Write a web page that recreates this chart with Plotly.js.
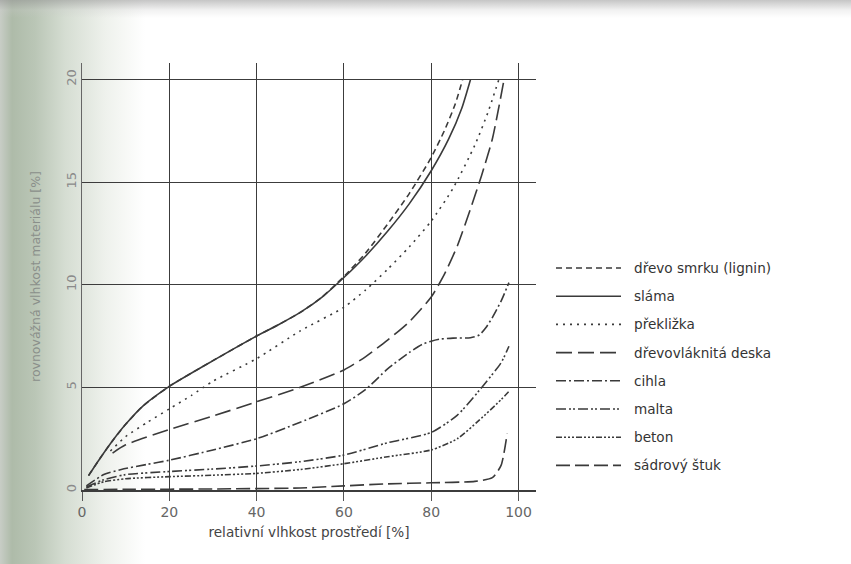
<!DOCTYPE html>
<html>
<head>
<meta charset="utf-8">
<script src="https://cdn.plot.ly/plotly-3.0.1.min.js"></script>
<style>
  html, body { margin: 0; padding: 0; }
  body {
    width: 851px; height: 564px; overflow: hidden;
    background:
      linear-gradient(to bottom, rgba(150,150,150,0.55) 0px, rgba(200,200,200,0.25) 10px, rgba(255,255,255,0) 18px),
      linear-gradient(to right, #c8cdc6 0px, #aebba9 12px, #bac6b6 35px, #d5ddd2 65px, #eef1ec 105px, #ffffff 145px);
  }
  #chart { width: 851px; height: 564px; }
</style>
</head>
<body>
<div id="chart"></div>
<script>
// ---- data ----
const seriesNames = ["dřevo smrku (lignin)", "sláma", "překližka", "dřevovláknitá deska", "cihla", "malta", "beton", "sádrový štuk"];

const xDrevo = [1.5, 4, 7, 10, 14, 20, 30, 40, 45, 50, 55, 60, 65, 70, 75, 80, 83, 85.5, 87.2];
const yDrevo = [0.7, 1.5, 2.4, 3.2, 4.1, 5.05, 6.3, 7.5, 8.05, 8.65, 9.4, 10.4, 11.55, 12.95, 14.45, 16.2, 17.5, 18.8, 20.0];

const xSlama = [1.5, 4, 7, 10, 14, 20, 30, 40, 45, 50, 55, 60, 65, 70, 75, 80, 84, 87, 89];
const ySlama = [0.7, 1.5, 2.4, 3.2, 4.1, 5.05, 6.3, 7.5, 8.05, 8.65, 9.4, 10.35, 11.4, 12.6, 13.95, 15.55, 17.1, 18.6, 20.0];

const xPreklizka = [6.5, 10, 15, 20, 25, 30, 40, 50, 60, 65, 70, 75, 80, 85, 90, 93, 95.5];
const yPreklizka = [1.9, 2.6, 3.3, 3.95, 4.6, 5.3, 6.4, 7.75, 8.9, 9.75, 10.75, 11.85, 13.1, 14.7, 16.8, 18.4, 20.0];

const xDeska = [7, 10, 20, 30, 40, 50, 60, 65, 70, 75, 80, 83, 86, 89, 91.5, 94, 96.6];
const yDeska = [1.8, 2.2, 2.95, 3.6, 4.3, 5.0, 5.85, 6.5, 7.3, 8.2, 9.4, 10.5, 11.9, 13.7, 15.3, 17.1, 19.9];

const xCihla = [1, 5, 9, 15, 20, 30, 40, 50, 60, 65, 70, 75, 78, 80, 82, 85, 89, 91, 92.5, 94, 96, 97.8];
const yCihla = [0.2, 0.75, 1.0, 1.25, 1.45, 1.95, 2.5, 3.3, 4.2, 4.9, 5.9, 6.7, 7.1, 7.25, 7.35, 7.4, 7.42, 7.55, 7.9, 8.4, 9.2, 10.1];

const xMalta = [1, 5, 10, 20, 30, 40, 50, 60, 70, 80, 86, 91, 96, 97.8];
const yMalta = [0.15, 0.5, 0.75, 0.9, 1.02, 1.17, 1.38, 1.7, 2.3, 2.8, 3.65, 4.85, 6.2, 7.0];

const xBeton = [1, 5, 10, 20, 30, 40, 50, 60, 70, 80, 86, 91, 96, 97.8];
const yBeton = [0.1, 0.4, 0.55, 0.65, 0.72, 0.81, 1.0, 1.28, 1.62, 1.95, 2.5, 3.4, 4.4, 4.8];

const xStuk = [0.5, 10, 30, 50, 60, 70, 80, 90, 94, 96, 97.4];
const yStuk = [0.02, 0.03, 0.05, 0.1, 0.2, 0.3, 0.35, 0.42, 0.6, 1.2, 2.75];

const xTicks = [0, 20, 40, 60, 80, 100];
const yTicks = [0, 5, 10, 15, 20];

// ---- styles ----
const dashes = ["6px,4px", "solid", "2px,5px", "16px,6px", "10px,3px,2px,3px", "10px,3px,2px,2px,2px,3px", "6px,2px,2px,2px,2px,2px,2px,2px", "14px,5px"];
const xs = [xDrevo, xSlama, xPreklizka, xDeska, xCihla, xMalta, xBeton, xStuk];
const ys = [yDrevo, ySlama, yPreklizka, yDeska, yCihla, yMalta, yBeton, yStuk];
const lineColor = "#3a3a3a";

const traces = seriesNames.map((n, i) => ({
  type: "scatter", mode: "lines", name: n,
  x: xs[i], y: ys[i],
  line: { color: lineColor, width: 1.6, dash: dashes[i], shape: "spline", smoothing: 0.6 },
  showlegend: false, hoverinfo: "skip"
}));

// plot area in pixels
const L = 82, R = 536, T = 63, B = 490;
const W = 851, H = 564;
const px2x = p => (p - L) / (R - L);
const py2y = p => (B - p) / (B - T);

// manual legend (long line samples like the reference)
const legTop = 268, legStep = 28.2, sampX0 = 556, sampX1 = 621, textX = 632;
const shapes = [], annotations = [];
seriesNames.forEach((n, i) => {
  const yy = py2y(legTop + i * legStep);
  shapes.push({ type: "line", xref: "paper", yref: "paper",
    x0: px2x(sampX0), x1: px2x(sampX1), y0: yy, y1: yy,
    line: { color: lineColor, width: 1.6, dash: dashes[i] } });
  annotations.push({ xref: "paper", yref: "paper", x: px2x(textX), y: yy,
    xanchor: "left", yanchor: "middle", showarrow: false, text: n,
    font: { family: "DejaVu Sans", size: 13.6, color: "#333" } });
});

const layout = {
  width: W, height: H,
  margin: { l: L, r: W - R, t: T, b: H - B },
  paper_bgcolor: "rgba(0,0,0,0)",
  plot_bgcolor: "rgba(0,0,0,0)",
  font: { family: "DejaVu Sans", color: "#555" },
  showlegend: false,
  xaxis: {
    range: [0, 104], tickvals: xTicks, ticktext: xTicks.map(String),
    showgrid: true, gridcolor: "#3c3c3c", gridwidth: 1,
    zeroline: false, showline: true, linecolor: "#3c3c3c", linewidth: 1.5,
    ticks: "outside", ticklen: 9, tickcolor: "#555",
    tickfont: { family: "DejaVu Sans", size: 14, color: "#666" },
    title: { text: "relativní vlhkost prostředí [%]", standoff: 8,
      font: { family: "DejaVu Sans", size: 13.6, color: "#444" } },
    fixedrange: true
  },
  yaxis: {
    range: [0, 20.8], tickvals: yTicks, ticktext: yTicks.map(String),
    showgrid: true, gridcolor: "#3c3c3c", gridwidth: 1,
    zeroline: false, showline: true, linecolor: "#666", linewidth: 1,
    ticks: "", tickangle: -90,
    tickfont: { family: "DejaVu Sans", size: 13, color: "#8a8a8a" },
    title: { text: "rovnovážná vlhkost materiálu [%]", standoff: 20,
      font: { family: "DejaVu Sans", size: 12.5, color: "#8a8f8a" } },
    fixedrange: true
  },
  shapes: shapes,
  annotations: annotations
};

Plotly.newPlot("chart", traces, layout, { staticPlot: true, displayModeBar: false });
</script>
</body>
</html>
